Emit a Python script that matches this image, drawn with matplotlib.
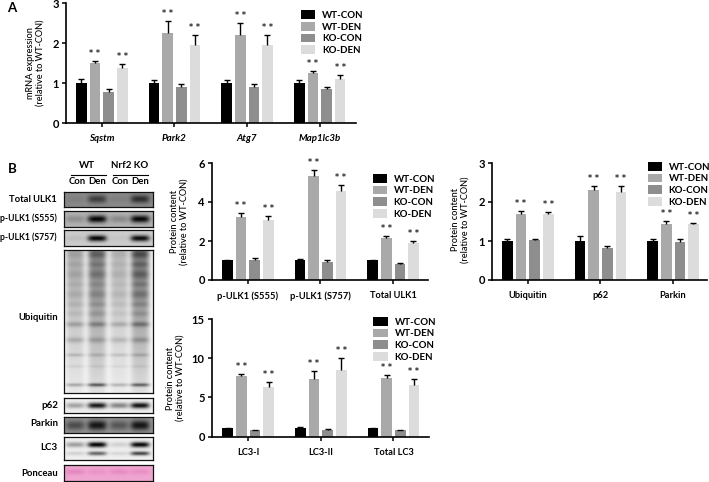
import matplotlib

matplotlib.use("Agg")

import matplotlib.pyplot as plt
import numpy as np
from matplotlib.colors import LinearSegmentedColormap
from matplotlib.patches import Patch

plt.rcParams["font.family"] = ["Lato", "DejaVu Sans"]
plt.rcParams["font.weight"] = "bold"

W, H = 709, 482

series = ["WT-CON", "WT-DEN", "KO-CON", "KO-DEN"]
colors = ["#000000", "#a9a9a9", "#8e8e8e", "#dcdcdc"]

genes = ["Sqstm", "Park2", "Atg7", "Map1lc3b"]
mrna_mean = [[1.01, 1.01, 1.01, 1.01], [1.50, 2.26, 2.20, 1.25], [0.78, 0.91, 0.90, 0.86], [1.37, 1.96, 1.95, 1.10]]
mrna_top = [[1.09, 1.07, 1.08, 1.07], [1.54, 2.55, 2.49, 1.29], [0.84, 0.98, 0.98, 0.90], [1.47, 2.19, 2.19, 1.20]]

ulk_names = ["p-ULK1 (S555)", "p-ULK1 (S757)", "Total ULK1"]
ulk_mean = [[1.02, 1.02, 1.02], [3.25, 5.35, 2.17], [1.02, 0.93, 0.82], [3.08, 4.57, 1.88]]
ulk_top = [[1.04, 1.08, 1.04], [3.46, 5.66, 2.26], [1.11, 1.04, 0.87], [3.29, 4.87, 1.99]]

ubi_names = ["Ubiquitin", "p62", "Parkin"]
ubi_mean = [[1.01, 1.01, 1.01], [1.70, 2.30, 1.43], [1.03, 0.81, 0.97], [1.68, 2.26, 1.43]]
ubi_top = [[1.05, 1.13, 1.05], [1.76, 2.42, 1.52], [1.06, 0.86, 1.05], [1.75, 2.40, 1.46]]

lc3_names = ["LC3-I", "LC3-II", "Total LC3"]
lc3_mean = [[1.05, 1.05, 1.05], [7.70, 7.40, 7.50], [0.80, 0.80, 0.80], [6.35, 8.50, 6.60]]
lc3_top = [[1.10, 1.28, 1.10], [8.05, 8.40, 7.85], [0.90, 1.00, 0.85], [6.95, 10.00, 7.35]]

# band lists: (y fraction, thickness fraction, darkness per lane)
blot_rows = [
    (191.7, 207, 0.46, [(0.5, 0.26, [0.04, 0.30, 0.04, 0.36])]),
    (211.3, 227, 0.30, [(0.5, 0.24, [0.14, 0.68, 0.16, 0.68])]),
    (230.3, 246, 0.20, [(0.52, 0.2, [0.05, 0.78, 0.03, 0.76])]),
    (398, 413, 0.06, [(0.5, 0.2, [0.3, 0.85, 0.42, 0.88])]),
    (416.7, 433, 0.42, [(0.55, 0.3, [0.28, 0.5, 0.24, 0.5])]),
    (437.3, 460.3, 0.06, [(0.33, 0.12, [0.32, 0.94, 0.12, 0.92]), (0.72, 0.09, [0.12, 0.55, 0.1, 0.68])]),
]
ubi_bands = [
    (0.03, 0.025, [0.06, 0.16, 0.05, 0.20]),
    (0.10, 0.02, [0.06, 0.10, 0.05, 0.14]),
    (0.17, 0.03, [0.08, 0.14, 0.07, 0.18]),
    (0.24, 0.02, [0.06, 0.08, 0.05, 0.12]),
    (0.31, 0.03, [0.08, 0.12, 0.07, 0.16]),
    (0.38, 0.02, [0.07, 0.10, 0.06, 0.12]),
    (0.445, 0.02, [0.06, 0.10, 0.05, 0.10]),
    (0.52, 0.018, [0.18, 0.22, 0.16, 0.26]),
    (0.63, 0.02, [0.15, 0.15, 0.13, 0.17]),
    (0.735, 0.012, [0.14, 0.12, 0.12, 0.14]),
    (0.815, 0.01, [0.06, 0.06, 0.05, 0.06]),
    (0.945, 0.012, [0.24, 0.52, 0.20, 0.48]),
]
ubi_smear = [0.30, 0.46, 0.25, 0.50]
ponceau_bands = [(0.45, 0.18, [0.30, 0.18, 0.26, 0.22])]

lane_x = [75, 97, 119, 140]
row_labels = ["Total ULK1", "p-ULK1 (S555)", "p-ULK1 (S757)", "Ubiquitin", "p62", "Parkin", "LC3", "Ponceau"]
row_label_y = [199, 218, 237, 318, 405, 423, 448, 473]
row_label_x = [56.7, 56.7, 56.7, 58, 58, 58, 57, 58]
row_label_size = [6.8, 6.2, 6.2, 6.8, 7, 7, 7, 6.8]


def axes_px(left, right, top, bottom):
    return fig.add_axes([left / W, 1 - bottom / H, (right - left) / W, (bottom - top) / H])


def px_text(x, y, text, **kwargs):
    fig.text(x / W, 1 - y / H, text, **kwargs)


def bar_panel(box, first_bar, groups, means, tops, ymax, yticks, ylabel, label_xy, italic=False):
    left, right, top, bottom = box
    ax = axes_px(left, right, top, bottom)
    step = 13.63
    group_step = 5.33
    ax.set_xlim((left - first_bar) / step, (right - first_bar) / step)
    ax.set_ylim(0, ymax)
    centers = np.arange(len(groups)) * group_step
    unit = ymax / (bottom - top)
    for i, name in enumerate(series):
        xs = centers + i
        ax.bar(xs, means[i], width=0.78, color=colors[i], linewidth=0)
        err = np.array(tops[i]) - np.array(means[i])
        _, caps, _ = ax.errorbar(xs, means[i], yerr=[np.zeros_like(err), err], fmt="none",
                                 ecolor="black", elinewidth=1.0, capsize=2.0, capthick=1.0)
        caps[0].set_visible(False)
        if i % 2 == 1:
            for x, t in zip(xs, tops[i]):
                ax.text(x, t + 7.5 * unit, "* *", ha="center", va="center", fontsize=5.8,
                        family="DejaVu Sans", fontweight="bold", color="#222222")
    ax.set_xticks(centers + 1.5)
    ax.set_xticklabels(groups, style="italic" if italic else "normal")
    ax.set_yticks(yticks)
    ax.tick_params(axis="y", length=3, width=1.1, labelsize=8, pad=2)
    ax.tick_params(axis="x", length=3, width=1.1, labelsize=7 if italic else 6.7, pad=5)
    for side in ("top", "right"):
        ax.spines[side].set_visible(False)
    for side in ("left", "bottom"):
        ax.spines[side].set_linewidth(1.2)
    px_text(label_xy[0], label_xy[1], ylabel, rotation=90, ha="center", va="center",
            fontsize=6.6, fontweight="medium", linespacing=1.15, multialignment="center")
    return ax


def add_legend(x, y):
    handles = [Patch(facecolor=c, edgecolor="none", label=s) for c, s in zip(colors, series)]
    fig.legend(handles=handles, loc="upper left", bbox_to_anchor=(x / W, 1 - y / H), frameon=False,
               fontsize=7, borderpad=0, borderaxespad=0, handlelength=1.45, handleheight=1.0,
               handletextpad=0.72, labelspacing=0.2)


def blot_image(height, bands, background, smear=None):
    xs = np.linspace(64, 152.7, 178)
    ys = np.linspace(0, 1, max(int(height * 2), 8))
    dark = np.zeros((len(ys), len(xs)))
    for i, c in enumerate(lane_x):
        lane = np.exp(-(((xs - c) / 9.5) ** 4))
        if smear is not None:
            dark += smear[i] * (1 - 0.8 * ys)[:, None] * lane[None, :]
        for y0, thick, level in bands:
            dark += level[i] * np.exp(-(((ys - y0) / thick) ** 2))[:, None] * lane[None, :]
    return np.clip(background + dark, 0, 1)


def draw_blot(top, bottom, image, cmap=None):
    ax = axes_px(64, 152.7, top, bottom)
    ax.imshow(image, cmap=cmap or "gray_r", vmin=0, vmax=1, aspect="auto", interpolation="bilinear")
    ax.set_xticks([])
    ax.set_yticks([])
    for spine in ax.spines.values():
        spine.set_linewidth(0.9)
        spine.set_color("#111111")


fig = plt.figure(figsize=(W / 100, H / 100), dpi=100)

px_text(12, 8, "A", fontsize=9.5, ha="center", va="center")
px_text(12, 169, "B", fontsize=9.5, ha="center", va="center")

bar_panel((66, 356, 3, 123), 81.3, genes, mrna_mean, mrna_top, 3, [0, 1, 2, 3],
          "mRNA expression\n(relative to WT-CON)", (36, 63), italic=True)
add_legend(301, 10.5)

bar_panel((211.7, 428, 163, 280), 227.3, ulk_names, ulk_mean, ulk_top, 6, [0, 2, 4, 6],
          "Protein content\n(relative to WT-CON)", (180, 222))
add_legend(372.5, 174)

bar_panel((491.7, 706.7, 163, 280), 507.3, ubi_names, ubi_mean, ubi_top, 3, [0, 1, 2, 3],
          "Protein content\n(relative to WT-CON)", (461, 220))
add_legend(647.5, 162)

bar_panel((211.7, 429, 319, 436.7), 227.7, lc3_names, lc3_mean, lc3_top, 15, [0, 5, 10, 15],
          "Protein content\n(relative to WT-CON)", (176, 378))
add_legend(373.5, 317)

# western blot column
for top, bottom, background, bands in blot_rows:
    draw_blot(top, bottom, blot_image(bottom - top, bands, background))

draw_blot(250, 393, blot_image(143, ubi_bands, 0.03, smear=ubi_smear))

pink = LinearSegmentedColormap.from_list("ponceau", ["#f6bfdc", "#e88cc4", "#c85a9e"])
draw_blot(465, 481.3, blot_image(16, ponceau_bands, 0.25), cmap=pink)

for label, y, x, size in zip(row_labels, row_label_y, row_label_x, row_label_size):
    px_text(x, y, label, ha="right", va="center", fontsize=size)

px_text(87, 166, "WT", ha="center", va="center", fontsize=7)
px_text(130, 166, "Nrf2 KO", ha="center", va="center", fontsize=7)
for x, label in zip([76.7, 97, 120, 140], ["Con", "Den", "Con", "Den"]):
    px_text(x, 182, label, ha="center", va="center", fontsize=6.8)
for x0, x1 in [(71, 105.7), (113, 147.7)]:
    fig.add_artist(plt.Line2D([x0 / W, x1 / W], [1 - 175 / H, 1 - 175 / H], color="black", linewidth=0.8))

fig.savefig("out.png", dpi=100)
plt.close(fig)
